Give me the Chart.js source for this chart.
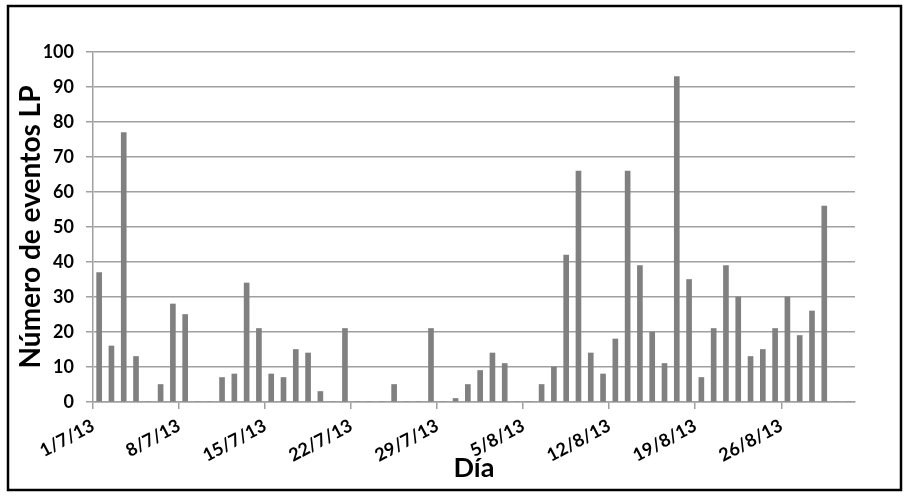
<!DOCTYPE html>
<html>
<head>
<meta charset="utf-8">
<script src="https://cdn.jsdelivr.net/npm/chart.js@4"></script>
<style>
  html, body { margin: 0; padding: 0; background: #fff; }
  #wrap { position: relative; width: 907px; height: 498px; }
</style>
</head>
<body>
<div id="wrap"><canvas id="grafico" width="907" height="498"></canvas></div>
<script>
// one entry per day, 1/7/13 .. 31/8/13
const dias = [
  '1/7/13','2/7/13','3/7/13','4/7/13','5/7/13','6/7/13','7/7/13','8/7/13','9/7/13','10/7/13',
  '11/7/13','12/7/13','13/7/13','14/7/13','15/7/13','16/7/13','17/7/13','18/7/13','19/7/13','20/7/13',
  '21/7/13','22/7/13','23/7/13','24/7/13','25/7/13','26/7/13','27/7/13','28/7/13','29/7/13','30/7/13',
  '31/7/13','1/8/13','2/8/13','3/8/13','4/8/13','5/8/13','6/8/13','7/8/13','8/8/13','9/8/13',
  '10/8/13','11/8/13','12/8/13','13/8/13','14/8/13','15/8/13','16/8/13','17/8/13','18/8/13','19/8/13',
  '20/8/13','21/8/13','22/8/13','23/8/13','24/8/13','25/8/13','26/8/13','27/8/13','28/8/13','29/8/13',
  '30/8/13','31/8/13'
];

const eventosLP = [
  37, 16, 77, 13, 0, 5, 28, 25, 0, 0,
  7, 8, 34, 21, 8, 7, 15, 14, 3, 0,
  21, 0, 0, 0, 5, 0, 0, 21, 0, 1,
  5, 9, 14, 11, 0, 0, 5, 10, 42, 66,
  14, 8, 18, 66, 39, 20, 11, 93, 35, 7,
  21, 39, 30, 13, 15, 21, 30, 19, 26, 56,
  0, 0
];

// labelled every 7 days
const etiquetasX = ['1/7/13', '8/7/13', '15/7/13', '22/7/13', '29/7/13', '5/8/13', '12/8/13', '19/8/13', '26/8/13'];

const FONT = 'Lato, "Open Sans", sans-serif';
const GRIS = '#a0a0a0';

// white background + black frame around the whole chart
const marco = {
  id: 'marco',
  beforeDraw(chart) {
    const ctx = chart.ctx;
    ctx.save();
    ctx.fillStyle = '#fff';
    ctx.fillRect(0, 0, chart.width, chart.height);
    ctx.strokeStyle = '#000';
    ctx.lineWidth = 2.5;
    ctx.strokeRect(8, 6, 893, 484);
    ctx.restore();
  }
};

new Chart(document.getElementById('grafico'), {
  type: 'bar',
  data: {
    datasets: [{
      label: 'Número de eventos LP',
      data: eventosLP.map((v, i) => ({ x: i + 0.5, y: v, dia: dias[i] })),
      backgroundColor: '#808080',
      barThickness: 5
    }]
  },
  plugins: [marco],
  options: {
    responsive: false,
    animation: false,
    layout: { padding: { left: 0, top: 52, right: 52, bottom: 0 } },
    plugins: {
      legend: { display: false },
      tooltip: {
        callbacks: { title: (items) => items[0].raw.dia }
      }
    },
    scales: {
      x: {
        type: 'linear',
        min: 0,
        max: dias.length,
        offset: false,
        afterFit: (s) => { s.height = 96; },
        ticks: {
          stepSize: 7,
          includeBounds: false,
          minRotation: 28,
          maxRotation: 28,
          padding: 6,
          color: '#000',
          font: { family: FONT, size: 18, weight: 'bold' },
          callback: (v) => etiquetasX[v / 7]
        },
        grid: { offset: false, drawOnChartArea: false, tickLength: 7, color: GRIS, lineWidth: 1.5 },
        border: { color: GRIS, width: 1.5 },
        title: {
          display: true,
          text: 'Día',
          color: '#000',
          font: { family: FONT, size: 27, weight: 'bold' },
          padding: { top: 0, bottom: 14 }
        }
      },
      y: {
        min: 0,
        max: 100,
        afterFit: (s) => { s.width = 93; },
        ticks: {
          stepSize: 10,
          padding: 12,
          color: '#000',
          font: { family: FONT, size: 18, weight: 'bold' }
        },
        grid: { color: GRIS, lineWidth: 1.5, tickLength: 7 },
        border: { color: GRIS, width: 1.5 },
        title: {
          display: true,
          text: 'Número de eventos LP',
          color: '#000',
          font: { family: FONT, size: 28, weight: 'bold' },
          padding: { top: 14, bottom: 0 }
        }
      }
    }
  }
});
</script>
</body>
</html>
